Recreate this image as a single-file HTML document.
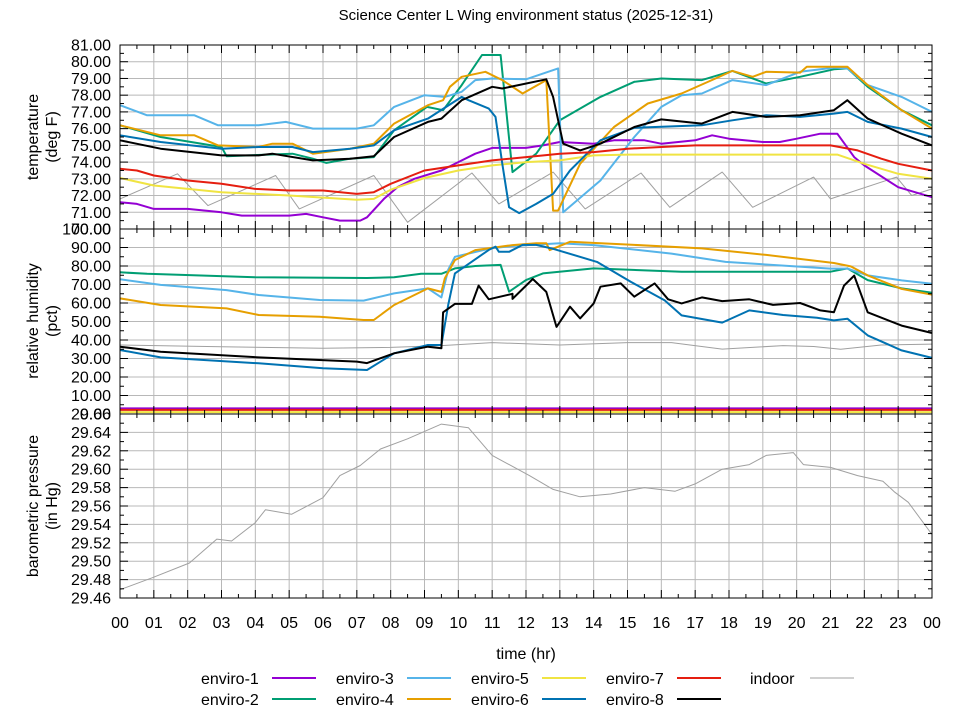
<!DOCTYPE html>
<html><head><meta charset="utf-8"><title>Science Center L Wing environment status</title>
<style>
html,body{margin:0;padding:0;background:#fff;}
svg{display:block;font-family:"Liberation Sans",sans-serif;}
</style></head>
<body>
<svg id="chart" width="960" height="720" viewBox="0 0 960 720" xmlns="http://www.w3.org/2000/svg">
<rect x="0" y="0" width="960" height="720" fill="#fff"/>
<text x="526" y="20" font-size="15" text-anchor="middle" fill="#000">Science Center L Wing environment status (2025-12-31)</text>
<g id="grid"></g>
<g id="series"></g>
<g id="frames"></g>
<g id="axes"></g>
<g transform="translate(38,137) rotate(-90)"><text x="0" y="0" font-size="16" text-anchor="middle">temperature</text><text x="0" y="19" font-size="16" text-anchor="middle">(deg F)</text></g>
<g transform="translate(38,321) rotate(-90)"><text x="0" y="0" font-size="16" text-anchor="middle">relative humidity</text><text x="0" y="19" font-size="16" text-anchor="middle">(pct)</text></g>
<g transform="translate(38,506) rotate(-90)"><text x="0" y="0" font-size="16" text-anchor="middle">barometric pressure</text><text x="0" y="19" font-size="16" text-anchor="middle">(in Hg)</text></g>
<text x="526" y="659" font-size="16" text-anchor="middle">time (hr)</text>
<g id="legend"></g>
</svg>
<script>
// ---- data: temperature (deg F) ----
const tT1=[0,0.5,1,2,3,3.6,5,5.5,6,6.5,7.1,7.3,7.8,8.2,8.7,9.5,10,10.5,11,12,12.5,13,14,14.6,15.5,16,17,17.5,18,19,19.5,20,20.7,21.2,21.7,22,23,24];
const vT1=[71.6,71.5,71.2,71.2,71.0,70.8,70.8,70.9,70.7,70.5,70.5,70.7,71.8,72.5,73.0,73.5,74.0,74.5,74.85,74.85,75.0,75.2,75.1,75.3,75.3,75.1,75.3,75.6,75.4,75.2,75.2,75.4,75.7,75.7,74.3,73.8,72.5,71.9];
const tT2=[0,1.2,3,3.15,5.1,5.7,6.1,6.8,7.5,8.1,9.07,9.55,10.1,10.7,11.25,11.6,12.3,13,14.2,15.2,16,17.2,18.1,19.1,20.1,21.1,21.5,22.1,23.1,24];
const vT2=[76.2,75.5,74.9,74.35,74.5,74.2,73.95,74.2,74.3,75.9,77.3,77.1,78.6,80.4,80.4,73.4,74.5,76.5,77.9,78.8,79.0,78.9,79.45,78.7,79.1,79.55,79.6,78.5,77.1,76.2];
const tT3=[0,0.8,2.2,2.9,4.1,4.9,5.7,7,7.5,8.1,9,9.6,10.1,10.5,11,12,12.95,13.1,14.2,15.2,16,16.6,17.2,18.1,19.1,20.1,21.1,21.5,22.1,23.1,24];
const vT3=[77.4,76.8,76.8,76.2,76.2,76.4,76.0,76.0,76.2,77.3,78.0,77.9,78.2,78.9,79.0,78.95,79.6,71.0,72.9,75.5,77.3,78.0,78.1,78.9,78.6,79.4,79.65,79.6,78.6,77.9,77.0];
const tT4=[0,1.2,2.2,2.9,4.1,4.5,5.1,5.7,6.8,7.5,8.1,9.1,9.55,9.75,10.1,10.8,11.3,11.9,12.6,12.8,12.95,13.6,14.6,15.6,16.6,17.6,18.1,18.7,19.1,20.1,20.3,21.5,22.1,23.1,24];
const vT4=[76.2,75.6,75.6,75.0,74.9,75.1,75.1,74.5,74.8,75.1,76.3,77.4,77.7,78.5,79.1,79.4,78.9,78.1,78.9,71.1,71.1,73.9,76.1,77.5,78.1,79.0,79.45,79.1,79.4,79.35,79.7,79.7,78.6,77.1,76.0];
const tT5=[0,1,2,3,5,7,7.5,8,9,10,11,12,13,14,15,21.2,22,23,24];
const vT5=[73.05,72.6,72.4,72.2,72.0,71.75,71.8,72.35,73.05,73.5,73.8,74.0,74.1,74.4,74.45,74.45,73.9,73.3,73.0];
const tT6=[0,1.2,3,4.1,5.1,5.7,6.8,7.5,8.1,9.1,10.1,10.3,10.9,11.1,11.3,11.5,11.8,12.3,12.8,13.3,14.2,15.2,17.2,18.1,19.1,20.1,21.1,21.5,22.1,23.1,24];
const vT6=[75.6,75.2,74.8,74.9,74.9,74.6,74.8,75.0,75.9,76.6,77.9,77.7,77.2,76.7,73.9,71.3,70.95,71.5,72.1,73.5,75.3,76.05,76.2,76.5,76.8,76.7,76.9,77.0,76.4,76.0,75.5];
const tT7=[0,0.5,1,2,3,4,5,6,7,7.5,8,9,10,11,12,13,14,15,16,17,21,21.8,22.5,23,24];
const vT7=[73.6,73.5,73.2,72.9,72.7,72.4,72.3,72.3,72.1,72.2,72.7,73.5,73.8,74.1,74.3,74.5,74.6,74.8,74.9,75.0,75.0,74.7,74.2,73.9,73.5];
const tT8=[0,1.2,3,4.1,4.5,5.7,6.8,7.5,8.1,9.1,9.5,10.1,11,11.3,12.6,12.8,13.1,13.6,14.2,15.2,16,17.2,18.1,19.1,20.1,21.1,21.5,22.1,23.1,24];
const vT8=[75.3,74.8,74.4,74.4,74.5,74.1,74.2,74.35,75.5,76.4,76.6,77.7,78.5,78.4,78.95,77.9,75.1,74.7,75.1,76.1,76.55,76.3,77.0,76.7,76.8,77.1,77.7,76.6,75.7,75.0];
const tTi=[0,1.7,2.6,4.6,5.3,7.5,8.5,10.4,11.2,12.8,13.75,15.4,16.25,17.8,18.7,20.5,21.0,22.95,23.4,24];
const vTi=[71.8,73.3,71.4,73.2,71.2,73.2,70.4,73.35,71.5,73.4,71.2,73.35,71.3,73.4,71.3,73.1,71.8,73.1,72.0,72.4];
// ---- data: relative humidity (pct) ----
const tH1=[0,24];const vH1=[3.0,3.0];
const tH2=[0,0.8,4,7.3,8.1,8.9,9.5,9.9,10.5,11.25,11.5,12,12.5,14,16.6,21,21.5,22.1,23.1,24];
const vH2=[76.6,75.8,73.9,73.5,73.9,75.8,75.8,78.7,80,80.6,66.1,72.4,76,78.7,76.9,76.9,78.7,72.4,67.9,65.5];
const tH3=[0,1.2,3.15,4.1,5.9,7.2,8.1,9.1,9.5,9.7,9.9,10.95,11.6,13,14,16.3,17.9,21,21.5,22.1,23.1,24];
const vH3=[72.8,69.8,67.0,64.3,61.6,61.3,65.2,67.9,63,78,85,89.5,90.8,92.3,91.3,86.7,82.2,78.6,78.6,74.9,72.2,70.4];
const tH4=[0,1.2,3.15,4.1,5.9,7.2,7.5,8.1,9.1,9.5,9.6,9.9,10.5,11.6,12.3,12.6,12.7,13.3,15.2,17.2,19.1,21.1,21.6,22.1,23.1,24];
const vH4=[62.5,58.9,57.1,53.5,52.6,50.8,50.8,58.9,67.9,66,73.3,83.2,88.6,91.3,92.3,92.3,88.6,93.1,91.4,89.5,86.0,81.6,79.8,74.9,67.6,64.5];
const tH5=[0,24];const vH5=[1.0,1.0];
const tH6=[0,1.2,4.1,6,7.3,8.1,9.1,9.5,9.7,9.9,10.9,11.1,11.2,11.5,11.9,12.3,12.8,14.1,15.1,16.1,16.6,17.8,18.6,19.6,20.6,21.1,21.5,22.1,23.1,24];
const vH6=[34.6,30.6,27.4,24.7,23.8,32.8,37.3,37.3,58.9,76,88.7,90.5,87.7,87.7,91.4,91.4,89.3,82.2,71.4,61.4,53.3,49.4,56,53.5,52,50.6,51.5,42.5,34.4,30.3];
const tH7=[0,24];const vH7=[2.2,2.2];
const tH8=[0,1.2,4.1,7.0,7.3,8.1,9.1,9.5,9.55,9.9,10.4,10.6,10.9,11.6,11.6,12.2,12.6,12.9,13.3,13.6,14.0,14.2,14.8,15.2,15.8,16.2,16.6,17.2,17.8,18.6,19.3,20.1,20.7,21.1,21.4,21.7,22.1,23.1,24];
const vH8=[36.4,33.7,30.6,28.3,27.5,32.8,36.4,35.5,55,59.5,59.5,69.4,62,65,62.2,73,66,47.1,58,51.7,59.8,68.8,70.6,63.4,70.6,62,59.8,63,61,62,59,60,56,55,69.4,74.8,55,47.8,43.8];
const tHi=[0,3,6,8,9.5,11,13,15,16.3,17.8,19.6,20.5,21.3,22.5,24];
const vHi=[37.3,36.4,35.5,36.0,37.0,38.6,37.3,38.6,38.6,35.1,37.0,36.5,35.0,37.3,37.8];
// ---- data: barometric pressure (in Hg) ----
const tP=[0,0.95,2.05,2.86,3.3,4.0,4.3,5.07,6.0,6.5,7.1,7.7,8.5,9.5,10.3,11.0,12.1,12.8,13.6,14.5,15.5,16.4,17.0,17.8,18.6,19.1,19.9,20.2,21.0,21.8,22.55,22.9,23.3,24];
const vP=[29.469,29.482,29.498,29.524,29.522,29.542,29.556,29.551,29.569,29.593,29.604,29.622,29.633,29.649,29.645,29.615,29.593,29.578,29.570,29.573,29.580,29.576,29.584,29.600,29.605,29.615,29.618,29.605,29.602,29.593,29.587,29.575,29.564,29.529];
// ---- axis tick labels ----
const xTickLabels=["00","01","02","03","04","05","06","07","08","09","10","11","12","13","14","15","16","17","18","19","20","21","22","23","00"];
const tempTicks=[70,71,72,73,74,75,76,77,78,79,80,81];
const humTicks=[0,10,20,30,40,50,60,70,80,90,100];
const presTicks=[29.46,29.48,29.50,29.52,29.54,29.56,29.58,29.60,29.62,29.64,29.66];
const legendNames=["enviro-1","enviro-2","enviro-3","enviro-4","enviro-5","enviro-6","enviro-7","enviro-8","indoor"];

const NS="http://www.w3.org/2000/svg";
const X0=120,X1=932;
const P1=[45,229],P2=[229,414],P3=[414,598];
function xs(h){return X0+(X1-X0)*h/24;}
function yT(v){return P1[1]-(v-70)/(81-70)*(P1[1]-P1[0]);}
function yH(v){return P2[1]-v/100*(P2[1]-P2[0]);}
function yP(v){return P3[1]-(v-29.46)/(29.66-29.46)*(P3[1]-P3[0]);}
function mk(tag,attrs,parent){const e=document.createElementNS(NS,tag);for(const k in attrs)e.setAttribute(k,attrs[k]);parent.appendChild(e);return e;}
const grid=document.getElementById('grid'),ser=document.getElementById('series'),frames=document.getElementById('frames'),axes=document.getElementById('axes'),leg=document.getElementById('legend');

// grid lines
for(let h=1;h<24;h++){
  const l=mk('line',{x1:xs(h),x2:xs(h),y1:P1[0],y2:P3[1],stroke:'#b8b8b8','stroke-width':1},grid);
  
  
}
function hgrid(ticks,yf,name){ticks.forEach(v=>{const y=yf(v);const l=mk('line',{x1:X0,x2:X1,y1:y,y2:y,stroke:'#b8b8b8','stroke-width':1},grid);
  
  });}
hgrid(tempTicks,yT,'temperature-grid-line');hgrid(humTicks,yH,'humidity-grid-line');hgrid(presTicks,yP,'pressure-grid-line');

// series
const colors={e1:'#9400d3',e2:'#009e73',e3:'#56b4e9',e4:'#e69f00',e5:'#f0e442',e6:'#0072b2',e7:'#e51e10',e8:'#000000',ind:'#a0a0a0'};
function line(ts,vs,yf,color,w,name){
  const pts=ts.map((t,i)=>xs(t).toFixed(1)+','+yf(vs[i]).toFixed(1)).join(' ');
  const p=mk('polyline',{points:pts,fill:'none',stroke:color,'stroke-width':w,'stroke-linejoin':'round'},ser);
  
  
}
line(tTi,vTi,yT,colors.ind,1,'temperature-indoor-line');
line(tT1,vT1,yT,colors.e1,2,'temperature-enviro-1-line');
line(tT2,vT2,yT,colors.e2,2,'temperature-enviro-2-line');
line(tT3,vT3,yT,colors.e3,2,'temperature-enviro-3-line');
line(tT4,vT4,yT,colors.e4,2,'temperature-enviro-4-line');
line(tT5,vT5,yT,colors.e5,2,'temperature-enviro-5-line');
line(tT6,vT6,yT,colors.e6,2,'temperature-enviro-6-line');
line(tT7,vT7,yT,colors.e7,2,'temperature-enviro-7-line');
line(tT8,vT8,yT,colors.e8,2,'temperature-enviro-8-line');
line(tHi,vHi,yH,colors.ind,1,'humidity-indoor-line');
line(tH1,vH1,yH,colors.e1,2,'humidity-enviro-1-line');
line(tH5,vH5,yH,colors.e5,2,'humidity-enviro-5-line');
line(tH7,vH7,yH,colors.e7,2,'humidity-enviro-7-line');
line(tH2,vH2,yH,colors.e2,2,'humidity-enviro-2-line');
line(tH3,vH3,yH,colors.e3,2,'humidity-enviro-3-line');
line(tH4,vH4,yH,colors.e4,2,'humidity-enviro-4-line');
line(tH6,vH6,yH,colors.e6,2,'humidity-enviro-6-line');
line(tH8,vH8,yH,colors.e8,2,'humidity-enviro-8-line');
line(tP,vP,yP,colors.ind,1,'pressure-indoor-line');

// frames & ticks
[P1,P2,P3].forEach((P,pi)=>{
  const r=mk('rect',{x:X0,y:P[0],width:X1-X0,height:P[1]-P[0],fill:'none',stroke:'#000','stroke-width':1},frames);
  
  
  for(let k=0;k<=48;k++){const x=xs(k/2);const len=(k%2===0)?8:4;
    mk('line',{x1:x,x2:x,y1:P[0],y2:P[0]+len,stroke:'#000','stroke-width':1},frames);
    mk('line',{x1:x,x2:x,y1:P[1],y2:P[1]-len,stroke:'#000','stroke-width':1},frames);}
});
function yticks(ticks,yf,fmt,name){
  for(let i=0;i<ticks.length;i++){const y=yf(ticks[i]);
    mk('line',{x1:X0,x2:X0+8,y1:y,y2:y,stroke:'#000'},frames);mk('line',{x1:X1,x2:X1-8,y1:y,y2:y,stroke:'#000'},frames);
    if(i<ticks.length-1){const ym=yf((ticks[i]+ticks[i+1])/2);
      mk('line',{x1:X0,x2:X0+4,y1:ym,y2:ym,stroke:'#000'},frames);mk('line',{x1:X1,x2:X1-4,y1:ym,y2:ym,stroke:'#000'},frames);}
    const t=mk('text',{x:111,y:y+5.5,'font-size':16,'text-anchor':'end',fill:'#000'},axes);t.textContent=fmt(ticks[i]);
    
    }
}
yticks(tempTicks,yT,v=>v.toFixed(2),'temperature-tick-label');
yticks(humTicks,yH,v=>v.toFixed(2),'humidity-tick-label');
yticks(presTicks,yP,v=>v.toFixed(2),'pressure-tick-label');
xTickLabels.forEach((s,i)=>{const t=mk('text',{x:xs(i),y:628,'font-size':16,'text-anchor':'middle',fill:'#000'},axes);t.textContent=s;
  
  });

// legend
const legColors=[colors.e1,colors.e2,colors.e3,colors.e4,colors.e5,colors.e6,colors.e7,colors.e8,colors.ind];
legendNames.forEach((n,i)=>{
  const col=Math.floor(i/2),row=i%2;const tx=[201,336,471,606,750][col];const ty=[684,705][row];
  const g=mk('g',{},leg);
  
  
  const t=mk('text',{x:tx,y:ty,'font-size':16,fill:'#000'},g);t.textContent=n;
  const lx=(i===8)?810:tx+71;
  mk('line',{x1:lx,x2:lx+44,y1:ty-6,y2:ty-6,stroke:legColors[i],'stroke-width':(i===8)?1:2},g);
});
</script>
</body></html>
